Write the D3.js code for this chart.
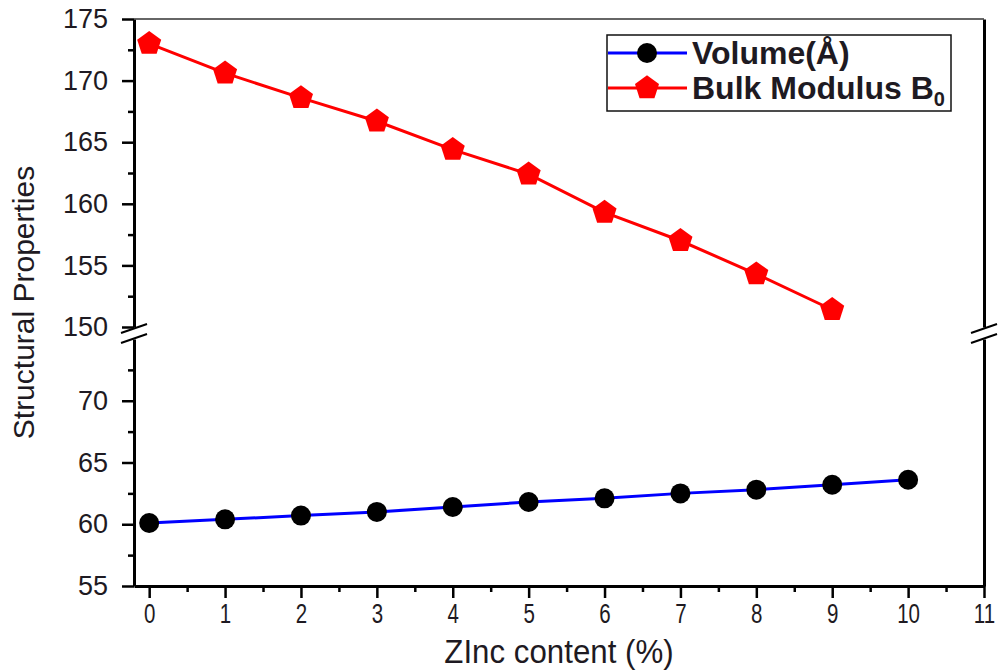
<!DOCTYPE html>
<html>
<head>
<meta charset="utf-8">
<script src="https://cdn.jsdelivr.net/npm/d3@7"></script>
<style>
  html, body { margin: 0; padding: 0; background: #fff; }
  svg { display: block; }
</style>
</head>
<body>
<svg id="chart" width="1001" height="672"></svg>
<script>
// Zinc content (%) on the x axis
const zincContent = [0, 1, 2, 3, 4, 5, 6, 7, 8, 9, 10];
// Bulk modulus B0 (upper panel), zinc content 0–9 %
const bulkModulus = [173.0, 170.6, 168.6, 166.7, 164.4, 162.4, 159.3, 157.0, 154.3, 151.4];
// Cell volume (lower panel), zinc content 0–10 %
const volume = [60.1, 60.4, 60.7, 61.0, 61.4, 61.8, 62.1, 62.5, 62.8, 63.2, 63.6];
// Tick values
const xTicks = [0, 1, 2, 3, 4, 5, 6, 7, 8, 9, 10, 11];
const xMinorTicks = [0.5, 1.5, 2.5, 3.5, 4.5, 5.5, 6.5, 7.5, 8.5, 9.5, 10.5];
const yTopTicks = [150, 155, 160, 165, 170, 175];
const yTopMinor = [152.5, 157.5, 162.5, 167.5, 172.5];
const yBotTicks = [55, 60, 65, 70];
const yBotMinor = [57.5, 62.5, 67.5, 72.5];
const seriesNames = ["Volume(Å)", "Bulk Modulus B"];

const svg = d3.select("#chart");
const plotLeft = 134, plotRight = 984, plotTop = 19, plotBottom = 586;
const breakTop = 327, breakBot = 339;

const x = d3.scaleLinear().domain([-0.2, 11]).range([plotLeft, plotRight]);
const yTop = d3.scaleLinear().domain([150, 175]).range([breakTop, plotTop]);
const yBot = d3.scaleLinear().domain([55, 75]).range([plotBottom, breakBot]);

const textColor = "#1e1a22";
const tickFont = "'Liberation Sans', Arial, sans-serif";

function styleAxis(g, fontSize) {
  g.selectAll(".domain").attr("stroke", "#000").attr("stroke-width", 3);
  g.selectAll(".tick line").attr("stroke", "#000").attr("stroke-width", 2.5);
  g.selectAll(".tick text")
    .attr("fill", textColor)
    .style("font-family", tickFont)
    .style("font-size", fontSize + "px");
}
function minorStyle(g) {
  g.select(".domain").remove();
  g.selectAll("line").attr("stroke", "#000").attr("stroke-width", 2.5);
}

// Upper y axis segment (bulk modulus range)
const gTop = svg.append("g").attr("transform", `translate(${plotLeft},0)`)
  .call(d3.axisLeft(yTop).tickValues(yTopTicks).tickSize(12).tickSizeOuter(0).tickPadding(14));
styleAxis(gTop, 27);
svg.append("g").attr("transform", `translate(${plotLeft},0)`)
  .call(d3.axisLeft(yTop).tickValues(yTopMinor).tickSize(6).tickFormat(""))
  .call(minorStyle);

// Lower y axis segment (volume range)
const gBot = svg.append("g").attr("transform", `translate(${plotLeft},0)`)
  .call(d3.axisLeft(yBot).tickValues(yBotTicks).tickSize(12).tickSizeOuter(0).tickPadding(14));
styleAxis(gBot, 27);
svg.append("g").attr("transform", `translate(${plotLeft},0)`)
  .call(d3.axisLeft(yBot).tickValues(yBotMinor).tickSize(6).tickFormat(""))
  .call(minorStyle);

// Right frame, split at the break
svg.append("g").attr("transform", `translate(${plotRight},0)`)
  .call(d3.axisRight(yTop).tickValues([]).tickSizeOuter(0))
  .call(g => g.select(".domain").attr("stroke", "#000").attr("stroke-width", 3));
svg.append("g").attr("transform", `translate(${plotRight},0)`)
  .call(d3.axisRight(yBot).tickValues([]).tickSizeOuter(0))
  .call(g => g.select(".domain").attr("stroke", "#000").attr("stroke-width", 3));

// Top frame line
svg.append("line")
  .attr("x1", plotLeft).attr("x2", plotRight).attr("y1", plotTop).attr("y2", plotTop)
  .attr("stroke", "#333").attr("stroke-width", 1.5);

// Bottom x axis (condensed tick labels)
const gx = svg.append("g").attr("transform", `translate(0,${plotBottom})`)
  .call(d3.axisBottom(x).tickValues(xTicks).tickSize(12).tickSizeOuter(0).tickPadding(6));
styleAxis(gx, 27);
gx.selectAll(".tick text").attr("transform", "scale(0.76,1)");
svg.append("g").attr("transform", `translate(0,${plotBottom})`)
  .call(d3.axisBottom(x).tickValues(xMinorTicks).tickSize(6).tickFormat(""))
  .call(minorStyle);

// Axis break marks on both vertical axes
const breakMid = (breakTop + breakBot) / 2;
[plotLeft, plotRight].forEach(ax => {
  [-5, 5].forEach(off => {
    svg.append("line")
      .attr("x1", ax - 13).attr("y1", breakMid + off + 5)
      .attr("x2", ax + 13).attr("y2", breakMid + off - 4)
      .attr("stroke", "#000").attr("stroke-width", 2);
  });
});

// Pentagon marker used for the bulk modulus series
const pentagon = {
  draw(context, size) {
    const r = Math.sqrt(size / 2.378);
    for (let i = 0; i < 5; i++) {
      const a = -Math.PI / 2 + i * 2 * Math.PI / 5;
      const px = r * Math.cos(a), py = r * Math.sin(a);
      if (i === 0) context.moveTo(px, py); else context.lineTo(px, py);
    }
    context.closePath();
  }
};

// Bulk modulus line + markers
const bulkData = bulkModulus.map((v, i) => ({ x: zincContent[i], y: v }));
svg.append("path").datum(bulkData)
  .attr("fill", "none").attr("stroke", "#ff0000").attr("stroke-width", 3)
  .attr("d", d3.line().x(d => x(d.x)).y(d => yTop(d.y)));
svg.append("g").selectAll("path").data(bulkData).join("path")
  .attr("transform", d => `translate(${x(d.x)},${yTop(d.y)})`)
  .attr("d", d3.symbol().type(pentagon).size(380))
  .attr("fill", "#ff0000");

// Volume line + markers
const volData = volume.map((v, i) => ({ x: zincContent[i], y: v }));
svg.append("path").datum(volData)
  .attr("fill", "none").attr("stroke", "#0000ff").attr("stroke-width", 3)
  .attr("d", d3.line().x(d => x(d.x)).y(d => yBot(d.y)));
svg.append("g").selectAll("circle").data(volData).join("circle")
  .attr("cx", d => x(d.x)).attr("cy", d => yBot(d.y)).attr("r", 10)
  .attr("fill", "#000");

// Axis titles
svg.append("text")
  .attr("transform", `translate(34,${(plotTop + plotBottom) / 2}) rotate(-90)`)
  .attr("text-anchor", "middle")
  .attr("fill", textColor)
  .style("font-family", tickFont).style("font-size", "30px")
  .text("Structural Properties");
svg.append("text")
  .attr("transform", `translate(${(plotLeft + plotRight) / 2},663) scale(0.92,1)`)
  .attr("text-anchor", "middle")
  .attr("fill", textColor)
  .style("font-family", tickFont).style("font-size", "34px")
  .text("ZInc content (%)");

// Legend
const lg = svg.append("g").attr("transform", "translate(607,35)");
lg.append("rect").attr("width", 344).attr("height", 76)
  .attr("fill", "#fff").attr("stroke", "#111").attr("stroke-width", 1.5);
const rows = [
  { name: seriesNames[0], color: "#0000ff", marker: "circle", y: 18 },
  { name: seriesNames[1], color: "#ff0000", marker: "pentagon", y: 53, sub: "0" }
];
rows.forEach(r => {
  lg.append("line").attr("x1", 1).attr("x2", 80).attr("y1", r.y).attr("y2", r.y)
    .attr("stroke", r.color).attr("stroke-width", 3);
  if (r.marker === "circle") {
    lg.append("circle").attr("cx", 40).attr("cy", r.y).attr("r", 10).attr("fill", "#000");
  } else {
    lg.append("path").attr("transform", `translate(40,${r.y})`)
      .attr("d", d3.symbol().type(pentagon).size(380)).attr("fill", "#ff0000");
  }
  const t = lg.append("text").attr("x", 85).attr("y", r.y + 11)
    .attr("fill", textColor)
    .style("font-family", tickFont).style("font-size", "32px").style("font-weight", "bold")
    .text(r.name);
  if (r.sub) {
    t.append("tspan").attr("dy", 7).style("font-size", "20px").text(r.sub);
  }
});
</script>
</body>
</html>
